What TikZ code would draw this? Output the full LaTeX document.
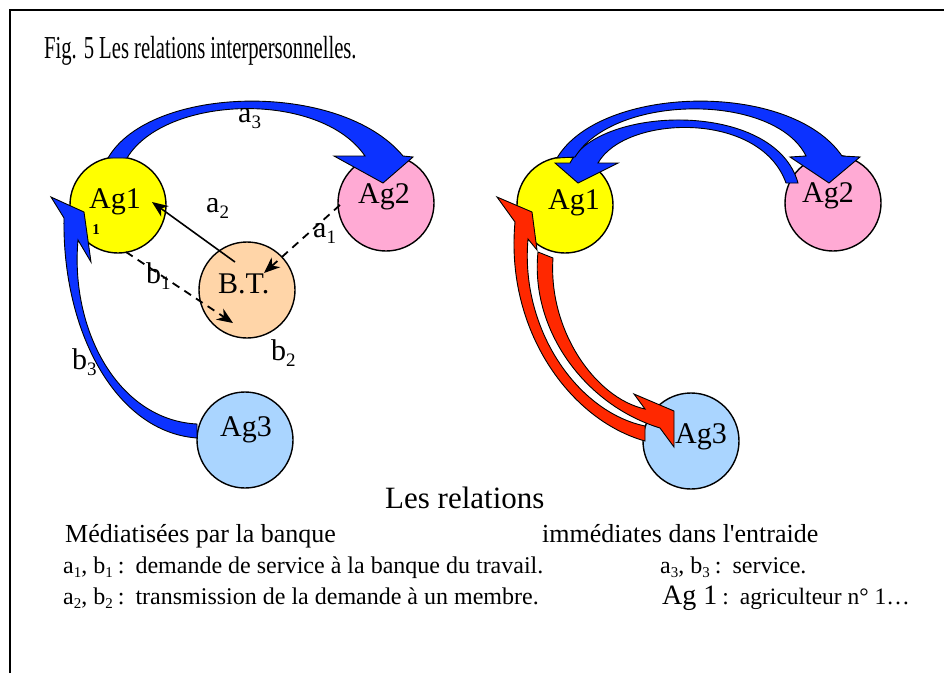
\documentclass[tikz,border=0pt]{standalone}
\usepackage{fontspec}
\usepackage{graphicx}
\setmainfont{Liberation Serif}
\usetikzlibrary{arrows.meta}
\definecolor{agyellow}{RGB}{255,255,0}
\definecolor{agpink}{RGB}{255,170,212}
\definecolor{agpeach}{RGB}{255,213,168}
\definecolor{agblue}{RGB}{170,213,255}
\definecolor{arrblue}{RGB}{12,50,255}
\definecolor{arrred}{RGB}{255,40,0}
\newcommand\subx[3]{\raisebox{-#2pt}{\fontsize{#1}{#1}\selectfont #3}}
\newcommand\colsep{\hspace{5pt}:\hspace{11pt}}
\newcommand\straightq{{\addfontfeature{Ligatures=TeXOff}'}}
\begin{document}
\begin{tikzpicture}[x=1pt,y=-1pt,
  agent/.style={circle,draw=black,line width=1.4pt,minimum size=96pt,inner sep=0pt},
  agtext/.style={anchor=base west,inner sep=0pt,font=\fontsize{30}{36}\selectfont},
  solidlink/.style={line width=1.6pt,-{Stealth[length=16pt,width=13pt,inset=5pt]}},
  dashlink/.style={solidlink,line width=1.8pt,dash pattern=on 8pt off 6pt},
  bluearrow/.style={draw=black,line width=0.9pt,fill=arrblue,line join=miter},
  redarrow/.style={draw=black,line width=0.9pt,fill=arrred,line join=miter},
  captxt/.style={anchor=base west,inner sep=0pt},
]
\useasboundingbox (0,0) rectangle (944,673);
\draw[line width=2pt] (10,673) -- (10,10) -- (944,10);

% title
\node[captxt] (title) at (44,58) {\scalebox{0.645}[1]{\fontsize{32}{38}\selectfont Fig. 5 Les relations interpersonnelles.}};

% ---------- left diagram ----------
\node[agent,fill=agyellow] (L1) at (118,205) {};
\node[agent,fill=agpink]   (L2) at (386,203) {};
\node[agent,fill=agpeach]  (BT) at (247,290) {};
\node[agent,fill=agblue]   (L3) at (245,440) {};

% a3 : Ag1 -> Ag2
\path[bluearrow] (108,158) .. controls (150,85) and (340,80) .. (403,156)
  -- (413,157) -- (383,183) -- (334,156) -- (365,156)
  .. controls (320,90) and (165,95) .. (127,158) -- cycle;
% b3 : Ag3 -> Ag1
\path[bluearrow] (197,438) .. controls (115,432) and (62,330) .. (64,218)
  -- (51,197) -- (84,212) -- (91,262) -- (78,240)
  .. controls (70,330) and (118,420) .. (197,424) -- cycle;

% mediated links
\coordinate (a2s) at (235,262);
\coordinate (a2e) at (152,202);
\coordinate (a1s) at (340,205);
\coordinate (a1e) at (264,273);
\coordinate (b1s) at (126,252);
\coordinate (b1e) at (233,323);
\draw[solidlink] (a2s) -- (a2e);
\draw[dashlink] (a1s) -- (a1e);
\draw[dashlink] (b1s) -- (b1e);

\node[agtext] (L1t) at (89,208) {Ag1};
\node[agtext] (L2t) at (358,203) {Ag2};
\node[agtext] (BTt) at (218,293) {B.T.};
\node[agtext] (L3t) at (220,436) {Ag3};
\node[inner sep=0pt,font=\fontsize{15}{15}\selectfont\bfseries] (tick) at (96,230) {1};

\node[agtext] (la3) at (238,122) {a\subx{19}{6}{3}};
\node[agtext] (la2) at (206,212) {a\subx{19}{6}{2}};
\node[agtext] (la1) at (313,237) {a\subx{19}{6}{1}};
\node[agtext] (lb1) at (146,283) {b\subx{19}{6}{1}};
\node[agtext] (lb2) at (271,360) {b\subx{19}{6}{2}};
\node[agtext] (lb3) at (72,369) {b\subx{19}{6}{3}};

% ---------- right diagram ----------
\node[agent,fill=agyellow] (R1) at (565,205) {};
\node[agent,fill=agpink]   (R2) at (833,203) {};
\node[agent,fill=agblue]   (R3) at (691,441) {};

% Ag2 -> Ag1 (inner blue)
\path[bluearrow] (798,183) .. controls (775,100) and (600,105) .. (570,163)
  -- (555,163) -- (578,183) -- (618,163) -- (598,163)
  .. controls (625,115) and (760,110) .. (786,183) -- cycle;
% Ag1 -> Ag2 (outer blue)
\path[bluearrow] (557,158) .. controls (600,85) and (790,80) .. (842,156)
  -- (860,157) -- (829,183) -- (790,157) -- (806,156)
  .. controls (775,93) and (615,93) .. (575,157) -- cycle;
% Ag3 -> Ag1 (outer red)
\path[redarrow] (645,441) .. controls (570,420) and (505,330) .. (515,222)
  -- (497,197) -- (532,212) -- (537,250) -- (528,239)
  .. controls (520,330) and (578,412) .. (645,426) -- cycle;
% Ag1 -> Ag3 (inner red)
\path[redarrow] (538,252) .. controls (530,330) and (585,405) .. (660,428)
  -- (674,447) -- (674,411) -- (634,394) -- (645,409)
  .. controls (595,398) and (548,330) .. (553,258) -- cycle;

\node[agtext] (R1t) at (548,209) {Ag1};
\node[agtext] (R2t) at (802,202) {Ag2};
\node[agtext] (R3t) at (675,443) {Ag3};

% ---------- legend ----------
\node[captxt,font=\fontsize{31}{36}\selectfont] (lesrel) at (385,508) {Les relations};
\node[captxt,font=\fontsize{26}{30}\selectfont] (med) at (65,542) {Médiatisées par la banque};
\node[captxt,font=\fontsize{26}{30}\selectfont] (imm) at (542,542) {immédiates dans l\straightq entraide};
\node[captxt,font=\fontsize{24}{27}\selectfont] (l1) at (63,573)
  {a\subx{15}{4}{1}, b\subx{15}{4}{1}\colsep demande de service à la banque du travail.};
\node[captxt,font=\fontsize{24}{27}\selectfont] (l2) at (63,604)
  {a\subx{15}{4}{2}, b\subx{15}{4}{2}\colsep transmission de la demande à un membre.};
\node[captxt,font=\fontsize{24}{27}\selectfont] (r1) at (660,573)
  {a\subx{15}{4}{3}, b\subx{15}{4}{3}\colsep service.};
\node[captxt,font=\fontsize{23.5}{27}\selectfont] (r2) at (662,604)
  {{\fontsize{28}{30}\selectfont Ag 1}\colsep agriculteur n° 1…};
\end{tikzpicture}
\end{document}
